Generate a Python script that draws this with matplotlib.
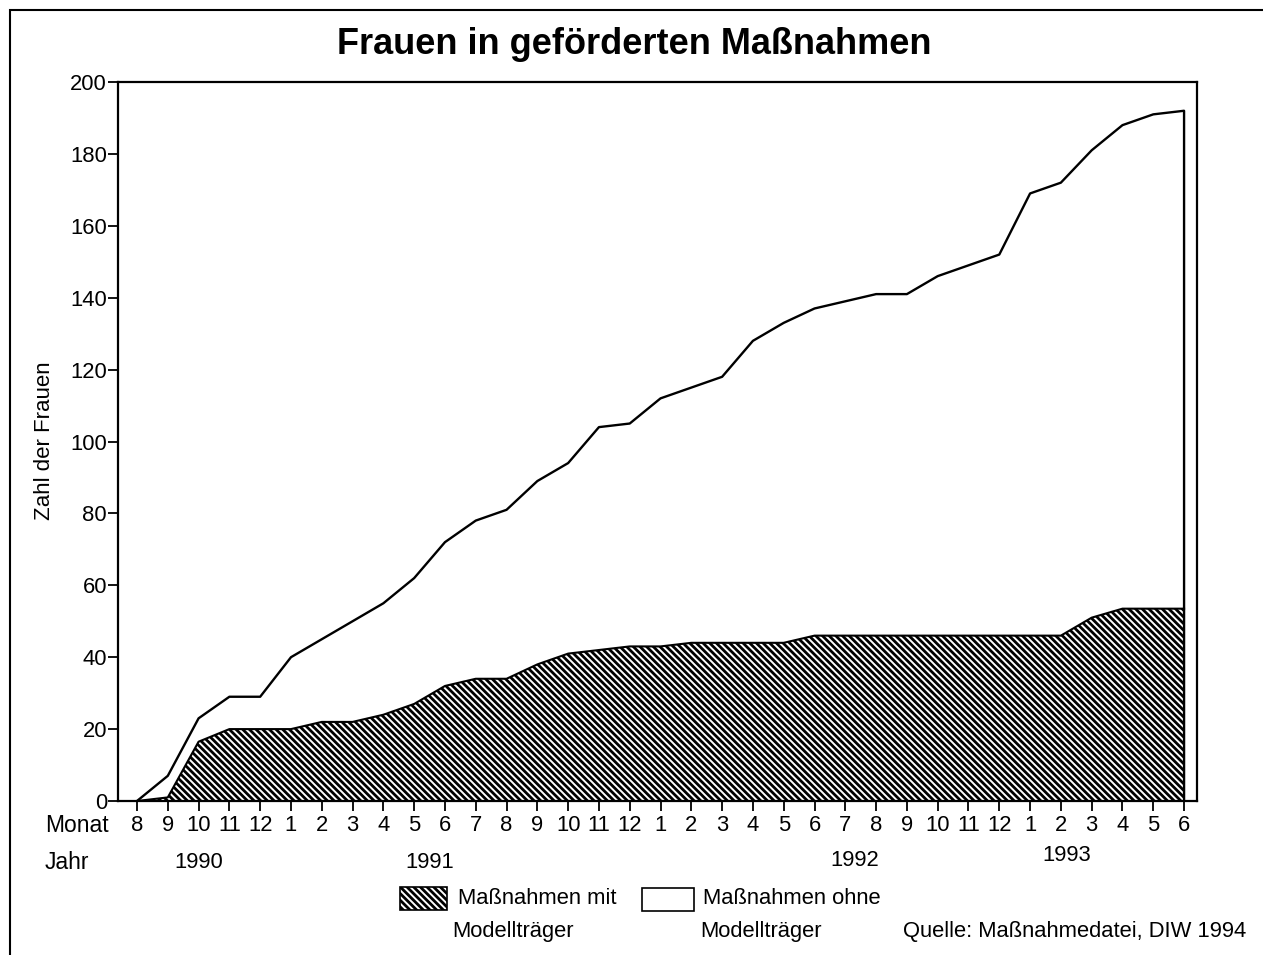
import matplotlib
matplotlib.use("Agg")
import matplotlib.pyplot as plt
from matplotlib.patches import Rectangle
from matplotlib.transforms import blended_transform_factory

plt.rcParams["font.family"] = ["Liberation Sans", "DejaVu Sans"]
plt.rcParams["hatch.linewidth"] = 2.0
plt.rcParams["hatch.color"] = "black"

W, H = 1263, 955
FS = 15.8
HATCH = "\\\\\\\\\\"

# Monate 8/1990 bis 6/1993
months = [8, 9, 10, 11, 12,
          1, 2, 3, 4, 5, 6, 7, 8, 9, 10, 11, 12,
          1, 2, 3, 4, 5, 6, 7, 8, 9, 10, 11, 12,
          1, 2, 3, 4, 5, 6]
# Zahl der Frauen insgesamt (Oberkante)
total = [0, 7, 23, 29, 29,
         40, 45, 50, 55, 62, 72, 78, 81, 89, 94, 104, 105,
         112, 115, 118, 128, 133, 137, 139, 141, 141, 146, 149, 152,
         169, 172, 181, 188, 191, 192]
# davon Maßnahmen mit Modellträger
mit_modell = [0, 1, 16.5, 20, 20,
              20, 22, 22, 24, 27, 32, 34, 34, 38, 41, 42, 43,
              43, 44, 44, 44, 44, 46, 46, 46, 46, 46, 46, 46,
              46, 46, 51, 53.5, 53.5, 53.5]
years = ["1990", "1991", "1992", "1993"]
year_pos = [2.0, 9.5, 23.3, 30.2]
year_y = [862, 862, 860, 855]


def fx(px):
    return px / W


def fy(py):
    return 1 - py / H


fig = plt.figure(figsize=(W / 100, H / 100), dpi=100)
ax = fig.add_axes([fx(118), fy(801), fx(1197) - fx(118), fy(82) - fy(801)])

x = list(range(len(months)))
ax.fill_between(x, mit_modell, facecolor="white", edgecolor="black",
                hatch=HATCH, linewidth=0)
ax.plot(x, mit_modell, color="black", lw=1.5)
ax.plot(x + [x[-1]], total + [0], color="black", lw=1.7)

ax.set_xlim(-0.617, 34.42)
ax.set_ylim(0, 200)
ax.set_yticks(range(0, 201, 20))
ax.set_xticks(x)
ax.set_xticklabels([str(m) for m in months])
ax.tick_params(direction="out", length=7, width=1.3, labelsize=FS)
ax.tick_params(axis="y", pad=1)
ax.tick_params(axis="x", pad=3)
for s in ax.spines.values():
    s.set_linewidth(1.6)

fig.text(fx(45), fy(441), "Zahl der Frauen", rotation=90,
         ha="center", va="center", fontsize=16)
fig.text(fx(634), fy(45), "Frauen in geförderten Maßnahmen",
         ha="center", va="center", fontsize=26, fontweight="bold")
fig.text(fx(45), fy(825), "Monat", ha="left", va="center", fontsize=16.5)
fig.text(fx(45), fy(862), "Jahr", ha="left", va="center", fontsize=16.5)

tr = blended_transform_factory(ax.transData, fig.transFigure)
for label, xp, yp in zip(years, year_pos, year_y):
    ax.text(xp, fy(yp), label, transform=tr, ha="center", va="center",
            fontsize=FS, clip_on=False)

# Legende
fig.add_artist(Rectangle((fx(400), fy(910)), fx(47), fy(887) - fy(910),
                         transform=fig.transFigure, facecolor="white",
                         edgecolor="black", hatch=HATCH, lw=1.2))
fig.text(fx(458), fy(898), "Maßnahmen mit", ha="left", va="center", fontsize=FS)
fig.text(fx(452), fy(931), "Modellträger", ha="left", va="center", fontsize=FS)
fig.add_artist(Rectangle((fx(642), fy(911)), fx(52), fy(888) - fy(911),
                         transform=fig.transFigure, facecolor="white",
                         edgecolor="black", lw=1.2))
fig.text(fx(703), fy(898), "Maßnahmen ohne", ha="left", va="center", fontsize=FS)
fig.text(fx(700), fy(931), "Modellträger", ha="left", va="center", fontsize=FS)
fig.text(fx(903), fy(931), "Quelle: Maßnahmedatei, DIW 1994",
         ha="left", va="center", fontsize=FS)

# Rahmen
fig.add_artist(Rectangle((fx(10), -0.1), 2, fy(10) + 0.1,
                         transform=fig.transFigure, fill=False,
                         edgecolor="black", lw=1.5))

fig.savefig("out.png", dpi=100)
